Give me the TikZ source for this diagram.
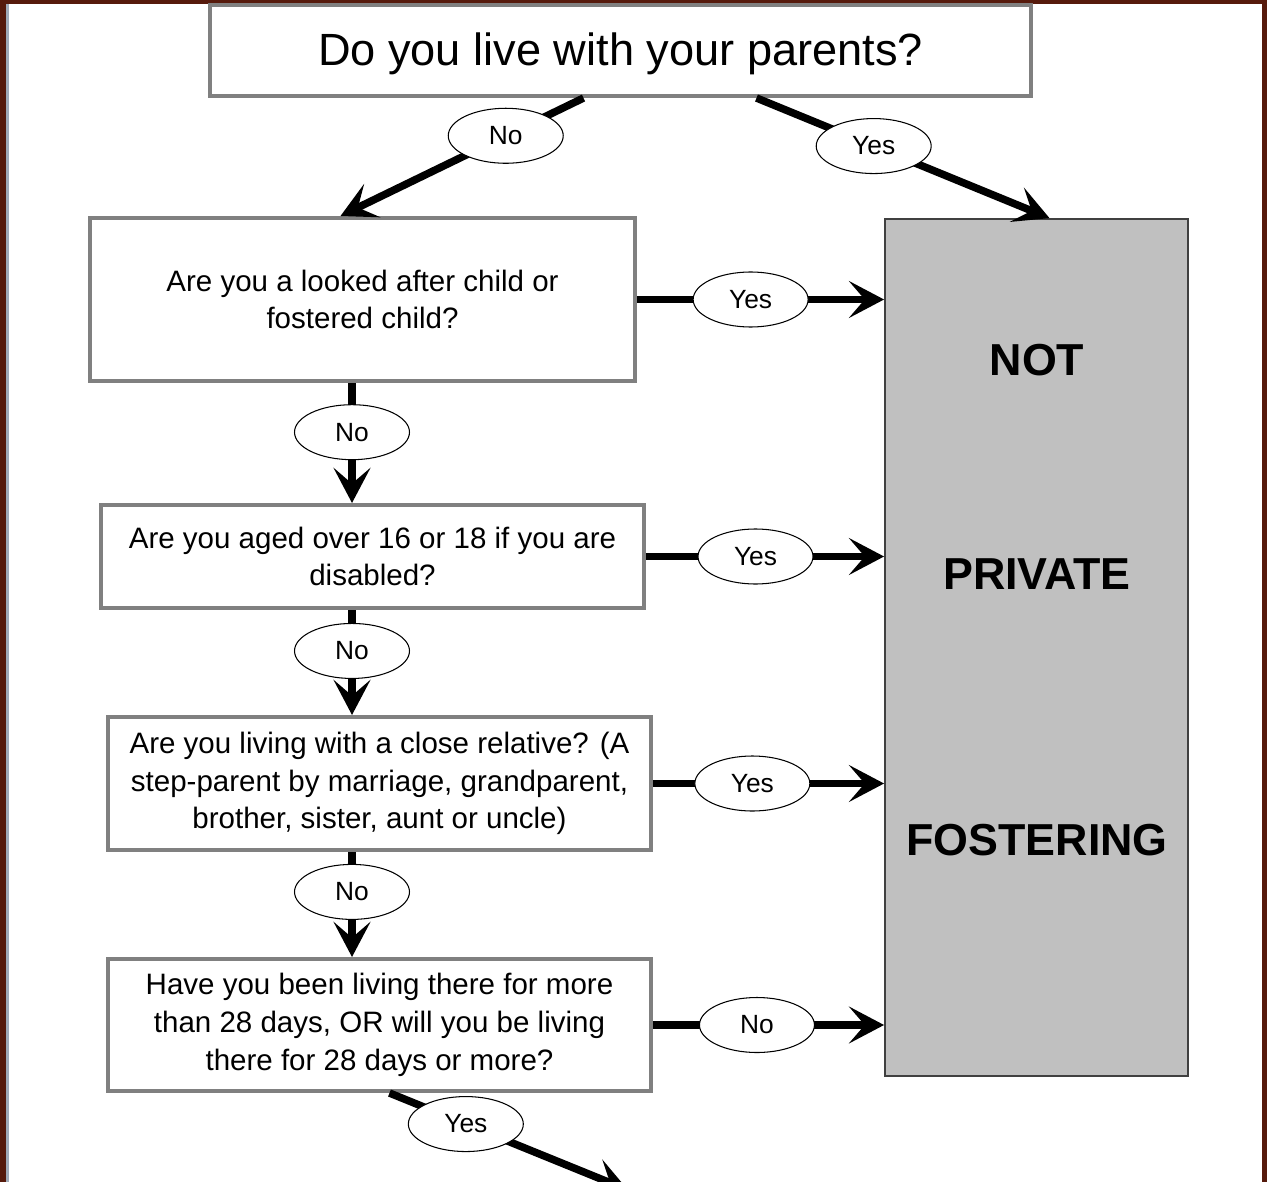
\documentclass[tikz,border=0pt]{standalone}
\usepackage{fontspec}
\setmainfont{Liberation Sans}
\usepackage{tikz}
\usetikzlibrary{calc,arrows.meta,shapes.geometric,positioning}
\definecolor{myframe}{RGB}{86,26,12}
\definecolor{myrule}{RGB}{160,170,184}
\definecolor{myedge}{RGB}{128,128,128}
\definecolor{mygrey}{RGB}{192,192,192}

\begin{document}
\begin{tikzpicture}[
  x=0.02cm, y=-0.02cm,
  qbox/.style={
    draw=myedge,
    line width=2.3pt,
    fill=white,
    align=center,
    inner sep=0pt,
    minimum width=10.86cm,
    font=\fontsize{16.8}{21.5}\selectfont
    },
  ans/.style={
    draw,
    ellipse,
    line width=0.6pt,
    fill=white,
    inner sep=0pt,
    minimum width=2.3cm,
    minimum height=1.1cm,
    font=\fontsize{15}{18}\selectfont
    },
  flow/.style={
    line width=4.3pt,
    -{Stealth[length=20pt,width=21pt,inset=9pt]}
    },
  verdict/.style={font=\bfseries\fontsize{25.5}{30}\selectfont}
]
\useasboundingbox (0,0) rectangle (1267,1182);

% frame
\fill[myframe] (0,0) rectangle (1267,4);
\fill[myframe] (0,0) rectangle (6,1182);
\fill[myframe] (1262,0) rectangle (1267,1182);
\fill[myrule] (6,4) rectangle (9,1182);

% questions
\node[qbox, minimum width=16.42cm, minimum height=1.82cm, text depth=0.12em,
  font=\fontsize{25.7}{30}\selectfont] (q0) at (620.5,50.5)
  {Do you live with your parents?};
\node[qbox, minimum width=10.9cm, minimum height=3.26cm] (q1) at (362.5,299.5)
  {Are you a looked after child or\\fostered child?};
\node[qbox, minimum height=2.06cm] (q2) at (372.5,556.5)
  {Are you aged over 16 or 18 if you are\\disabled?};
\node[qbox, minimum height=2.66cm] (q3) at (379.5,783.5)
  {Are you living with a close relative? (A\\step-parent by marriage, grandparent,\\brother, sister, aunt or uncle)};
\node[qbox, minimum height=2.64cm] (q4) at (379.5,1025)
  {Have you been living there for more\\than 28 days, OR will you be living\\there for 28 days or more?};

% outcome
\node[draw=black!75, line width=1.1pt, fill=mygrey, minimum width=6.06cm,
  minimum height=17.14cm, inner sep=0pt] (nf) at (1036.5,647.5) {};
\node[verdict] (nf1) at (1037,360) {NOT};
\node[verdict] (nf2) at (1037,574) {PRIVATE};
\node[verdict] (nf3) at (1037,840) {FOSTERING};

\coordinate (col) at (352,0);
\coordinate (exit) at (628,1190);

% connectors
\draw[flow] ($(q0.south)+(-37,0)$) -- node[ans, pos=0.32] {No} ($(q1.north)+(-22,0)$);
\draw[flow] ($(q0.south)+(136,0)$) -- node[ans, pos=0.4] {Yes} ($(nf.north)+(13,0)$);
\foreach \Q/\Ans/\Pos in {q1/Yes/0.46, q2/Yes/0.46, q3/Yes/0.43, q4/No/0.45}
  \draw[flow] (\Q.east) -- node[ans, pos=\Pos] {\Ans} (\Q.east -| nf.west);
\foreach \Qa/\Qb/\Pos in {q1/q2/0.41, q2/q3/0.39, q3/q4/0.38}
  \draw[flow] (\Qa.south -| col) -- node[ans, pos=\Pos] {No} (\Qb.north -| col);
\draw[flow] ($(q4.south)+(10,0)$) -- node[ans, pos=0.32] {Yes} (exit);
\end{tikzpicture}
\end{document}
